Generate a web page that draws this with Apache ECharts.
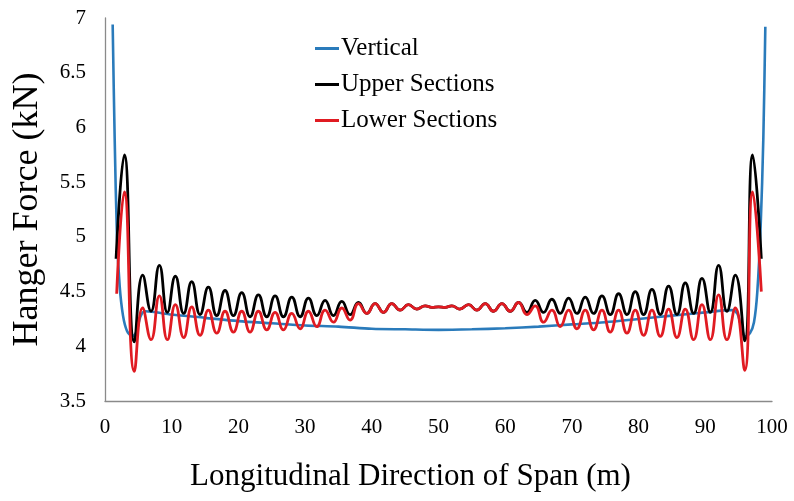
<!DOCTYPE html>
<html>
<head>
<meta charset="utf-8">
<title>Hanger Force</title>
<script src="https://cdn.jsdelivr.net/npm/echarts@6/dist/echarts.min.js"></script>
<style>
  html, body { margin: 0; padding: 0; background: #fff; }
  #chart { width: 794px; height: 501px; }
</style>
</head>
<body>
<div id="chart"></div>
<script>
// x 軸刻度
var xTicks = [0, 10, 20, 30, 40, 50, 60, 70, 80, 90, 100]
// y 軸刻度
var yTicks = [3.5, 4, 4.5, 5, 5.5, 6, 6.5, 7]

// 垂直吊杆 [位置(m), 力(kN)]
var vertical = [
  [1.15, 6.94], [1.45, 5.9], [1.8, 5.0], [2.2, 4.55], [2.7, 4.28], [3.3, 4.14],
  [4.1, 4.09], [4.7, 4.13], [5.3, 4.27], [6.0, 4.32], [10, 4.29], [15, 4.26],
  [20, 4.23], [25, 4.21], [30, 4.19], [35, 4.18], [40, 4.16], [45, 4.155],
  [50, 4.15], [55, 4.155], [60, 4.165], [65, 4.18], [70, 4.2], [75, 4.22],
  [80, 4.25], [85, 4.28], [90, 4.31], [94, 4.33], [94.8, 4.3], [95.3, 4.2],
  [96.0, 4.09], [96.7, 4.12], [97.3, 4.22], [97.8, 4.5], [98.3, 5.1],
  [98.7, 5.9], [99.0, 6.92]
]

// 上部截面
var upper = [
  [1.66, 4.8], [2.9, 5.75], [4.4, 4.04], [5.65, 4.65], [6.9, 4.32], [8.15, 4.74],
  [9.35, 4.31], [10.55, 4.64], [11.8, 4.3], [13.0, 4.59], [14.25, 4.29], [15.5, 4.54],
  [16.75, 4.28], [18.0, 4.51], [19.25, 4.28], [20.5, 4.49], [21.75, 4.27], [23.0, 4.47],
  [24.25, 4.27], [25.5, 4.46], [26.75, 4.27], [28.0, 4.45], [29.25, 4.27], [30.5, 4.44],
  [31.75, 4.28], [33.0, 4.42], [34.25, 4.28], [35.5, 4.41], [36.75, 4.29], [38.0, 4.4],
  [39.25, 4.3], [40.5, 4.39], [41.75, 4.31], [43.0, 4.39], [44.25, 4.33], [45.5, 4.38],
  [46.75, 4.34], [48.0, 4.37], [49.0, 4.355], [50.0, 4.36], [51.0, 4.355], [52.0, 4.37],
  [53.2, 4.34], [54.5, 4.38], [55.75, 4.33], [57.0, 4.39], [58.25, 4.32], [59.5, 4.39],
  [60.75, 4.32], [62.0, 4.4], [63.25, 4.31], [64.5, 4.42], [65.75, 4.31], [67.0, 4.43],
  [68.25, 4.3], [69.5, 4.44], [70.75, 4.3], [72.0, 4.45], [73.25, 4.3], [74.5, 4.46],
  [75.75, 4.29], [77.0, 4.48], [78.25, 4.29], [79.5, 4.5], [80.75, 4.29], [82.0, 4.52],
  [83.25, 4.29], [84.5, 4.55], [85.75, 4.29], [87.0, 4.58], [88.25, 4.3], [89.5, 4.62],
  [90.75, 4.31], [92.0, 4.74], [93.25, 4.32], [94.5, 4.65], [95.9, 4.05], [97.1, 5.75],
  [98.4, 4.8]
]

// 下部截面
var lower = [
  [1.75, 4.48], [2.9, 5.41], [4.4, 3.77], [5.65, 4.35], [6.9, 4.06], [8.15, 4.46],
  [9.35, 4.06], [10.55, 4.38], [11.8, 4.08], [13.0, 4.36], [14.25, 4.1], [15.5, 4.33],
  [16.75, 4.12], [18.0, 4.32], [19.25, 4.13], [20.5, 4.32], [21.75, 4.13], [23.0, 4.32],
  [24.25, 4.15], [25.5, 4.31], [26.75, 4.15], [28.0, 4.3], [29.25, 4.16], [30.5, 4.32],
  [31.75, 4.18], [33.0, 4.33], [34.25, 4.22], [35.5, 4.35], [36.75, 4.24], [38.0, 4.39],
  [39.25, 4.3], [40.5, 4.39], [41.75, 4.31], [43.0, 4.39], [44.25, 4.33], [45.5, 4.38],
  [46.75, 4.34], [48.0, 4.37], [49.0, 4.355], [50.0, 4.36], [51.0, 4.355], [52.0, 4.37],
  [53.2, 4.34], [54.5, 4.38], [55.75, 4.33], [57.0, 4.39], [58.25, 4.32], [59.5, 4.39],
  [60.75, 4.32], [62.0, 4.4], [63.25, 4.29], [64.5, 4.37], [65.75, 4.22], [67.0, 4.33],
  [68.25, 4.18], [69.5, 4.33], [70.75, 4.16], [72.0, 4.33], [73.25, 4.15], [74.5, 4.33],
  [75.75, 4.13], [77.0, 4.33], [78.25, 4.12], [79.5, 4.33], [80.75, 4.1], [82.0, 4.33],
  [83.25, 4.09], [84.5, 4.34], [85.75, 4.08], [87.0, 4.34], [88.25, 4.06], [89.5, 4.38],
  [90.75, 4.06], [92.0, 4.47], [93.25, 4.06], [94.5, 4.35], [95.9, 3.78], [97.1, 5.41],
  [98.4, 4.5]
]

var seriesNames = ['Vertical', 'Upper Sections', 'Lower Sections']
var colors = ['#2a7bbb', '#000000', '#e01b22']
var serif = '"Liberation Serif", "Times New Roman", serif'

var chart = echarts.init(document.getElementById('chart'))

chart.setOption({
  animation: false,
  textStyle: { fontFamily: serif },

  // 圖例
  legend: {
    orient: 'vertical',
    left: 310,
    top: 31,
    itemGap: 11,
    itemWidth: 24,
    itemHeight: 3,
    icon: 'rect',
    data: seriesNames,
    textStyle: { fontFamily: serif, fontSize: 25, color: '#000', padding: [0, 0, 0, -3] }
  },

  grid: {
    left: 105,
    right: 22,
    top: 18,
    bottom: 100
  },

  xAxis: {
    type: 'value',
    min: xTicks[0],
    max: xTicks[xTicks.length - 1],
    interval: 10,
    name: 'Longitudinal Direction of Span (m)',
    nameLocation: 'middle',
    nameGap: 60,
    nameTextStyle: { fontFamily: serif, fontSize: 31, color: '#000', padding: [0, 56, 0, 0] },
    axisLine: { lineStyle: { color: '#8a8a8a', width: 1.3 } },
    axisTick: { show: false },
    splitLine: { show: false },
    axisLabel: { margin: 16, fontSize: 21, color: '#000', fontFamily: serif }
  },

  yAxis: {
    type: 'value',
    min: yTicks[0],
    max: yTicks[yTicks.length - 1],
    interval: 0.5,
    name: 'Hanger Force (kN)',
    nameLocation: 'middle',
    nameGap: 59,
    nameTextStyle: { fontFamily: serif, fontSize: 36, color: '#000' },
    axisLine: { show: true, lineStyle: { color: '#8a8a8a', width: 1.3 } },
    axisTick: { show: false },
    splitLine: { show: false },
    axisLabel: { margin: 19, fontSize: 21, color: '#000', fontFamily: serif }
  },

  series: [
    {
      name: seriesNames[0],
      type: 'line',
      data: vertical,
      smooth: 0.3,
      showSymbol: false,
      itemStyle: { color: colors[0] },
      lineStyle: { width: 2.6 }
    },
    {
      name: seriesNames[1],
      type: 'line',
      data: upper,
      smooth: 0.5,
      showSymbol: false,
      itemStyle: { color: colors[1] },
      lineStyle: { width: 2.8 }
    },
    {
      name: seriesNames[2],
      type: 'line',
      data: lower,
      smooth: 0.5,
      showSymbol: false,
      itemStyle: { color: colors[2] },
      lineStyle: { width: 2.8 }
    }
  ]
})
</script>
</body>
</html>
